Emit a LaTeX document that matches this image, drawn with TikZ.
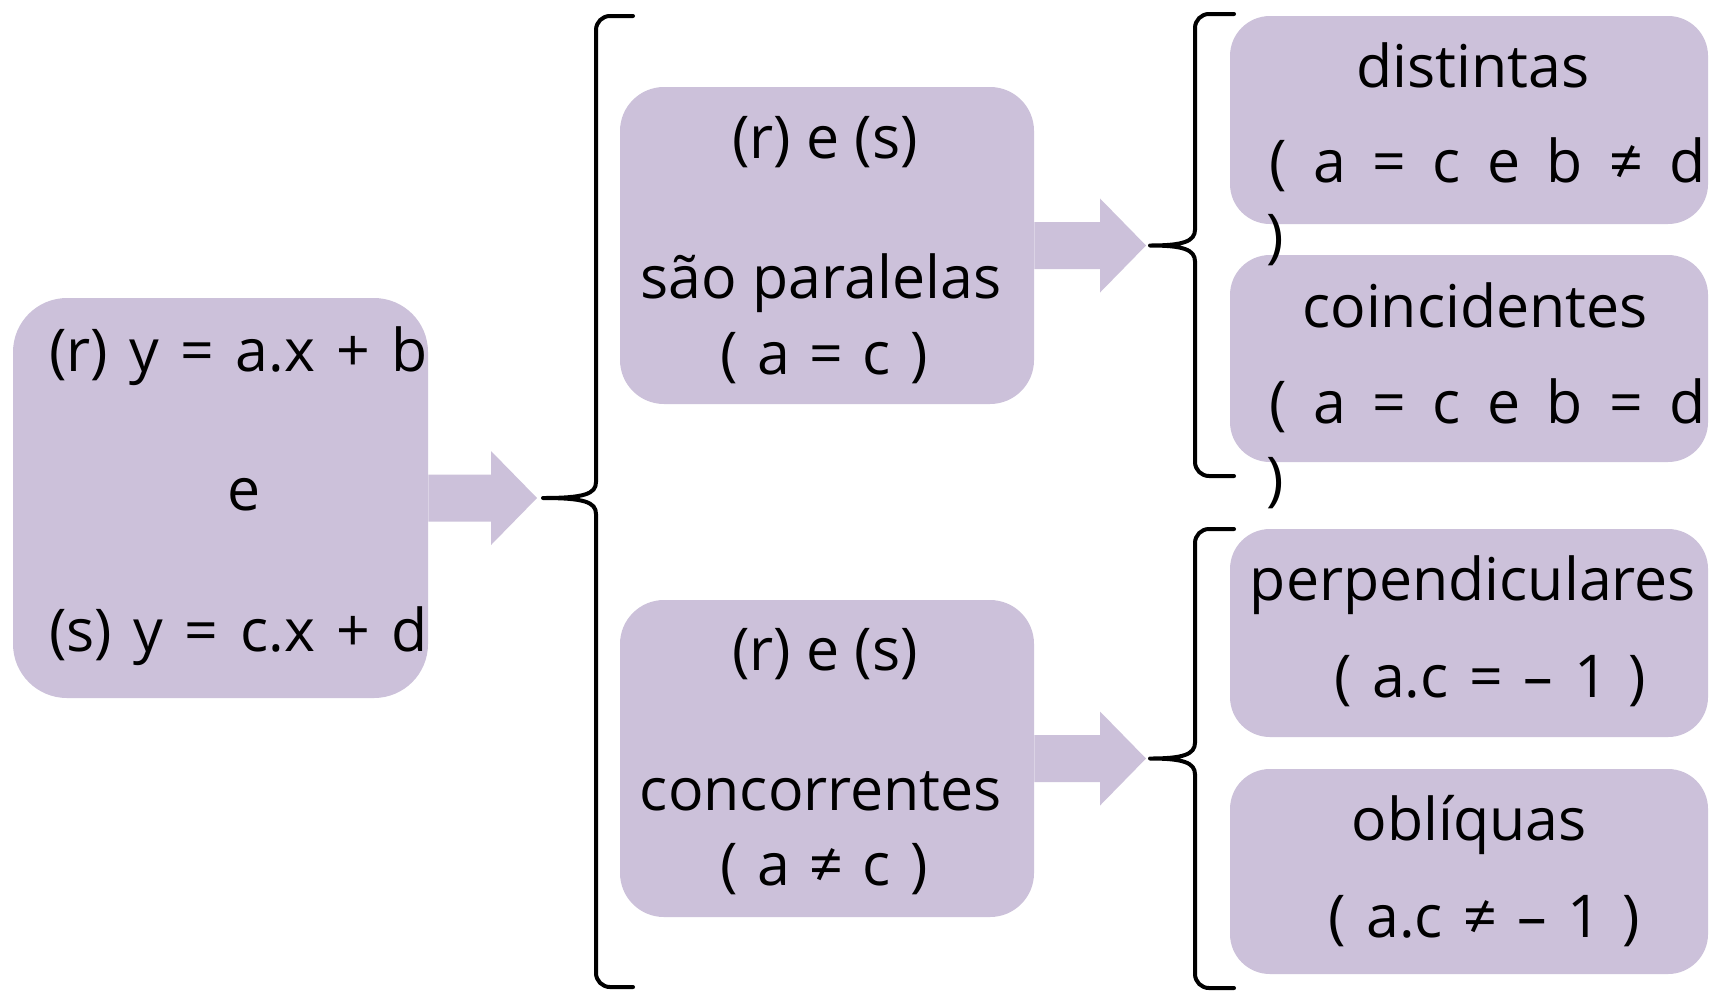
\documentclass[tikz,border=0pt]{standalone}
\usepackage{fontspec}
\setmainfont{Open Sans}
\usetikzlibrary{calc}
\definecolor{lav}{RGB}{204,193,218}
\newcommand\blockarrow[2]{%
  \fill[lav] ($(#1)+(0,-23.5)$) -- ($(#2)+(-46,-23.5)$) -- ($(#2)+(-46,-47)$) -- (#2)
    -- ($(#2)+(-46,47)$) -- ($(#2)+(-46,23.5)$) -- ($(#1)+(0,23.5)$) -- cycle;}
\newcommand\curlybrace[6]{%
  \draw[bracestyle] (#6,#2) -- ({#1+14},#2) to[out=180,in=90] (#1,{#2+14})
    -- (#1,{#4-16}) .. controls (#1,{#4-4}) and ({#1-12},#4) .. (#3,#4)
    .. controls ({#1-12},#4) and (#1,{#4+4}) .. (#1,{#4+16})
    -- (#1,{#5-14}) to[out=-90,in=180] ({#1+14},#5) -- (#6,#5);}
\newcommand\spreadline[2]{\makebox[#1][s]{#2}}
\begin{document}
\begin{tikzpicture}[x=0.5pt,y=-0.5pt,
  box/.style={fill=lav, draw=none, rounded corners=#1, inner sep=0pt},
  box/.default=22pt,
  txt/.style={font=\fontsize{29.5}{35}\selectfont, inner sep=0pt, anchor=base},
  bracestyle/.style={draw=black, line width=2pt, line cap=round, line join=round}]
\fill[white] (0,0) rectangle (1711,991);
\useasboundingbox (0,0) rectangle (1711,991);

% boxes
\node[box=27pt, minimum width=207.5pt, minimum height=200pt] (L) at (220.5,498) {};
\node[box, minimum width=207pt, minimum height=158.5pt] (P) at (827,245.5) {};
\node[box, minimum width=207pt, minimum height=158.5pt] (C) at (827,758.5) {};
\node[box=20pt, minimum width=239pt, minimum height=104pt] (D) at (1469,120) {};
\node[box=20pt, minimum width=239pt, minimum height=103.5pt] (Co) at (1469,358.5) {};
\node[box=20pt, minimum width=239pt, minimum height=104pt] (Pe) at (1469,633) {};
\node[box=20pt, minimum width=239pt, minimum height=102.5pt] (O) at (1469,871.5) {};

% brace tips
\coordinate (b1) at (543,498);
\coordinate (b2) at (1150,245.5);
\coordinate (b3) at (1150,758.5);

% braces
\curlybrace{596}{16}{543}{498}{987}{633}
\curlybrace{1195}{14}{1150}{245.5}{476}{1234}
\curlybrace{1195}{529}{1150}{758.5}{988}{1234}

% arrows
\coordinate (t1) at ($(L.east -| b1)+(-6,0)$);
\coordinate (t2) at ($(P.east -| b2)+(-4,0)$);
\coordinate (t3) at ($(C.east -| b3)+(-4,0)$);
\blockarrow{L.east}{t1}
\blockarrow{P.east}{t2}
\blockarrow{C.east}{t3}

% texts
\node[txt] (l1) at (238.5,371) {\spreadline{189.5pt}{(r) y = a.x + b}};
\node[txt] (l2) at (244,510) {e};
\node[txt] (l3) at (238.5,651) {\spreadline{189.5pt}{(s) y = c.x + d}};

\node[txt] (p1) at (825,158) {(r) e (s)};
\node[txt] (p2) at (821,298) {são paralelas};
\node[txt] (p3) at (824,374) {\spreadline{103.5pt}{( a = c )}};

\node[txt] (c1) at (825,670) {(r) e (s)};
\node[txt] (c2) at (821,810) {concorrentes};
\node[txt] (c3) at (824,885) {\spreadline{103.5pt}{( a ≠ c )}};

\node[txt] (d1) at (1473,87) {distintas};
\node[txt, anchor=base west] (d2) at (1269,182) {\spreadline{218pt}{( a = c e b ≠ d}};
\node[txt] (d3) at (1275,256) {)};

\node[txt] (co1) at (1475,327) {coincidentes};
\node[txt, anchor=base west] (co2) at (1269,423) {\spreadline{218pt}{( a = c e b = d}};
\node[txt] (co3) at (1275,499) {)};

\node[txt] (pe1) at (1473,600) {perpendiculares};
\node[txt] (pe2) at (1490,697) {\spreadline{156pt}{( a.c = – 1 )}};

\node[txt] (o1) at (1469,840) {oblíquas};
\node[txt] (o2) at (1484,937) {\spreadline{155.5pt}{( a.c ≠ – 1 )}};
\end{tikzpicture}
\end{document}
